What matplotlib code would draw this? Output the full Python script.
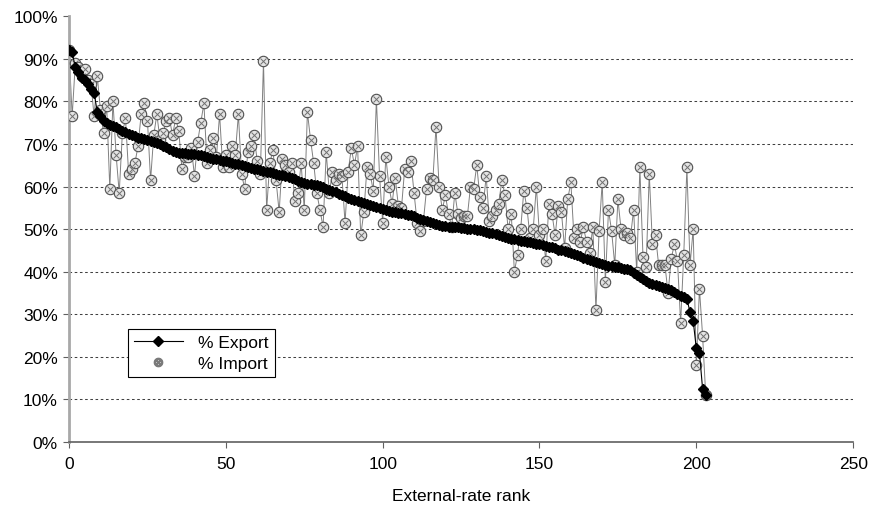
import matplotlib
matplotlib.use("Agg")
import matplotlib.pyplot as plt
from matplotlib.lines import Line2D
import numpy as np

plt.rcParams['font.family'] = ['Liberation Sans', 'DejaVu Sans']

export_pct = [
    92, 91.5, 88, 87, 85.5, 85, 84, 83, 82, 77.5,
    76.5, 75.5, 75, 74.5, 74.2, 73.9, 73.5, 73, 72.7, 72.4,
    72.1, 71.8, 71.5, 71.3, 71.1, 70.9, 70.7, 70.5, 70.2, 69.9,
    69.5, 69.2, 68.8, 68.3, 68, 67.9, 67.8, 67.8, 67.7, 67.6,
    67.6, 67.5, 67.3, 67.1, 66.9, 66.7, 66.5, 66.4, 66.2, 66.0,
    65.9, 65.7, 65.6, 65.4, 65.2, 65.0, 64.8, 64.6, 64.4, 64.2,
    64.0, 63.9, 63.7, 63.5, 63.3, 63.1, 63.0, 62.8, 62.6, 62.4,
    62.2, 62.0, 61.7, 61.4, 61.1, 60.8, 60.6, 60.5, 60.4, 60.3,
    60.1, 59.8, 59.5, 59.2, 58.9, 58.6, 58.3, 58.0, 57.7, 57.4,
    57.1, 56.8, 56.5, 56.3, 56.1, 55.8, 55.6, 55.4, 55.2, 55.0,
    54.7, 54.5, 54.3, 54.1, 54.0, 53.8, 53.7, 53.6, 53.4, 53.2,
    53.0, 52.7, 52.4, 52.1, 51.9, 51.7, 51.5, 51.3, 51.0, 50.8,
    50.7, 50.6, 50.5, 50.5, 50.4, 50.3, 50.2, 50.1, 50.0, 50.0,
    49.9, 49.8, 49.6, 49.4, 49.2, 49.0, 48.8, 48.6, 48.4, 48.1,
    47.9, 47.7, 47.6, 47.4, 47.2, 47.1, 47.0, 46.9, 46.7, 46.5,
    46.4, 46.2, 46.1, 45.9, 45.7, 45.5, 45.2, 45.0, 44.8, 44.6,
    44.4, 44.2, 44.0, 43.7, 43.3, 43.0, 42.7, 42.4, 42.2, 42.0,
    41.8, 41.6, 41.4, 41.3, 41.1, 41.0, 40.9, 40.7, 40.6, 40.3,
    39.8, 39.2, 38.8, 38.3, 37.8, 37.3, 37.0, 36.8, 36.6, 36.3,
    36.1, 35.9, 35.6, 35.2, 34.8, 34.4, 34.0, 33.6, 30.5, 28.5,
    22, 21, 12.5, 11,
]

import_pct = [
    92, 76.5, 89, 88, 86, 87.5, 85, 84, 76.5, 86,
    78, 72.5, 79, 59.5, 80, 67.5, 58.5, 72.5, 76, 63,
    64, 65.5, 69.5, 77, 79.5, 75.5, 61.5, 72, 77, 71,
    72.5, 75.5, 76, 72, 76, 73, 64, 67, 67, 69,
    62.5, 70.5, 75, 79.5, 65.5, 68.5, 71.5, 67, 77, 64.5,
    67.5, 64.5, 69.5, 67.5, 77, 63, 59.5, 68, 69.5, 72,
    66, 63, 89.5, 54.5, 65.5, 68.5, 61.5, 54, 66.5, 65,
    63.5, 65.5, 56.5, 58.5, 65.5, 54.5, 77.5, 71, 65.5, 58.5,
    54.5, 50.5, 68, 58.5, 63.5, 61.5, 63, 62.5, 51.5, 63.5,
    69, 65, 69.5, 48.5, 54, 64.5, 63, 59, 80.5, 62.5,
    51.5, 67, 60, 56, 62, 55.5, 55, 64, 63.5, 66,
    58.5, 51.5, 49.5, 52, 59.5, 62, 61.5, 74, 60, 54.5,
    58, 53.5, 50.5, 58.5, 53.5, 52.5, 53, 53, 60, 59.5,
    65, 57.5, 55, 62.5, 52, 53, 54.5, 56, 61.5, 58,
    50, 53.5, 40, 44, 50, 59, 55, 48, 50, 60,
    48.5, 50, 42.5, 56, 53.5, 48.5, 55.5, 54, 45.5, 57,
    61, 48, 50, 47, 50.5, 47, 44.5, 50.5, 31, 49.5,
    61, 37.5, 54.5, 49.5, 41.5, 57, 50, 48.5, 49, 48,
    54.5, 40, 64.5, 43.5, 41, 63, 46.5, 48.5, 41.5, 41.5,
    41.5, 35, 43, 46.5, 42.5, 28, 44, 64.5, 41.5, 50,
    18, 36, 25, 11,
]

rank = np.arange(len(export_pct))
exp_v = np.array(export_pct) / 100.0
imp_v = np.array(import_pct) / 100.0

fig = plt.figure(figsize=(8.75, 5.06), dpi=100)
ax = fig.add_axes([0.0789, 0.1245, 0.8961, 0.8415])

# Import series: gray connecting line with hatched circle markers
ax.plot(rank, imp_v, color='#808080', lw=0.7, zorder=2)
ax.plot(rank, imp_v, ls='none', marker='o', ms=7.5, mfc='#e4e4e4',
        mec='#505050', mew=0.8, zorder=3)
ax.plot(rank, imp_v, ls='none', marker='x', ms=4.5, mec='#707070',
        mew=0.7, zorder=4)

# Export series
ax.plot(rank, exp_v, color='black', lw=0.8, marker='D', ms=5.5,
        mfc='black', mec='black', zorder=5)

ax.set_xlim(0, 250)
ax.set_ylim(0, 1.0)
ax.set_xticks(range(0, 251, 50))
ax.set_yticks(np.arange(0, 1.01, 0.1))
ax.set_yticklabels([f"{int(round(v*100))}%" for v in np.arange(0, 1.01, 0.1)])

for yv in np.arange(0.1, 0.95, 0.1):
    ax.axhline(yv, color='#404040', lw=0.75, ls=(0, (2.5, 2.5)), zorder=1)

ax.spines['top'].set_visible(False)
ax.spines['right'].set_visible(False)
ax.spines['left'].set_color('#a8a8a8')
ax.spines['left'].set_linewidth(2)
ax.spines['bottom'].set_color('#606060')
ax.spines['bottom'].set_linewidth(1.2)
ax.tick_params(axis='both', labelsize=12.5, direction='out', length=4,
               color='#606060')
ax.tick_params(axis='x', pad=6)
ax.tick_params(axis='y', pad=4)
ax.set_xlabel('External-rate rank', fontsize=12.5, labelpad=12)

h_exp = Line2D([], [], color='black', lw=0.8, marker='D', ms=5.5,
               mfc='black', mec='black')
h_imp = Line2D([], [], ls='none', marker='$\\otimes$', ms=6, color='#7a7a7a')
leg = ax.legend([h_exp, h_imp], ['% Export', '% Import'], loc='lower left',
                bbox_to_anchor=(0.0753, 0.153), borderaxespad=0,
                fontsize=12.5, frameon=True,
                fancybox=False, edgecolor='black', framealpha=1,
                borderpad=0.35, labelspacing=0.3, handlelength=2.8,
                handletextpad=0.9)
leg.get_frame().set_linewidth(0.8)

fig.savefig('out.png', dpi=100)
